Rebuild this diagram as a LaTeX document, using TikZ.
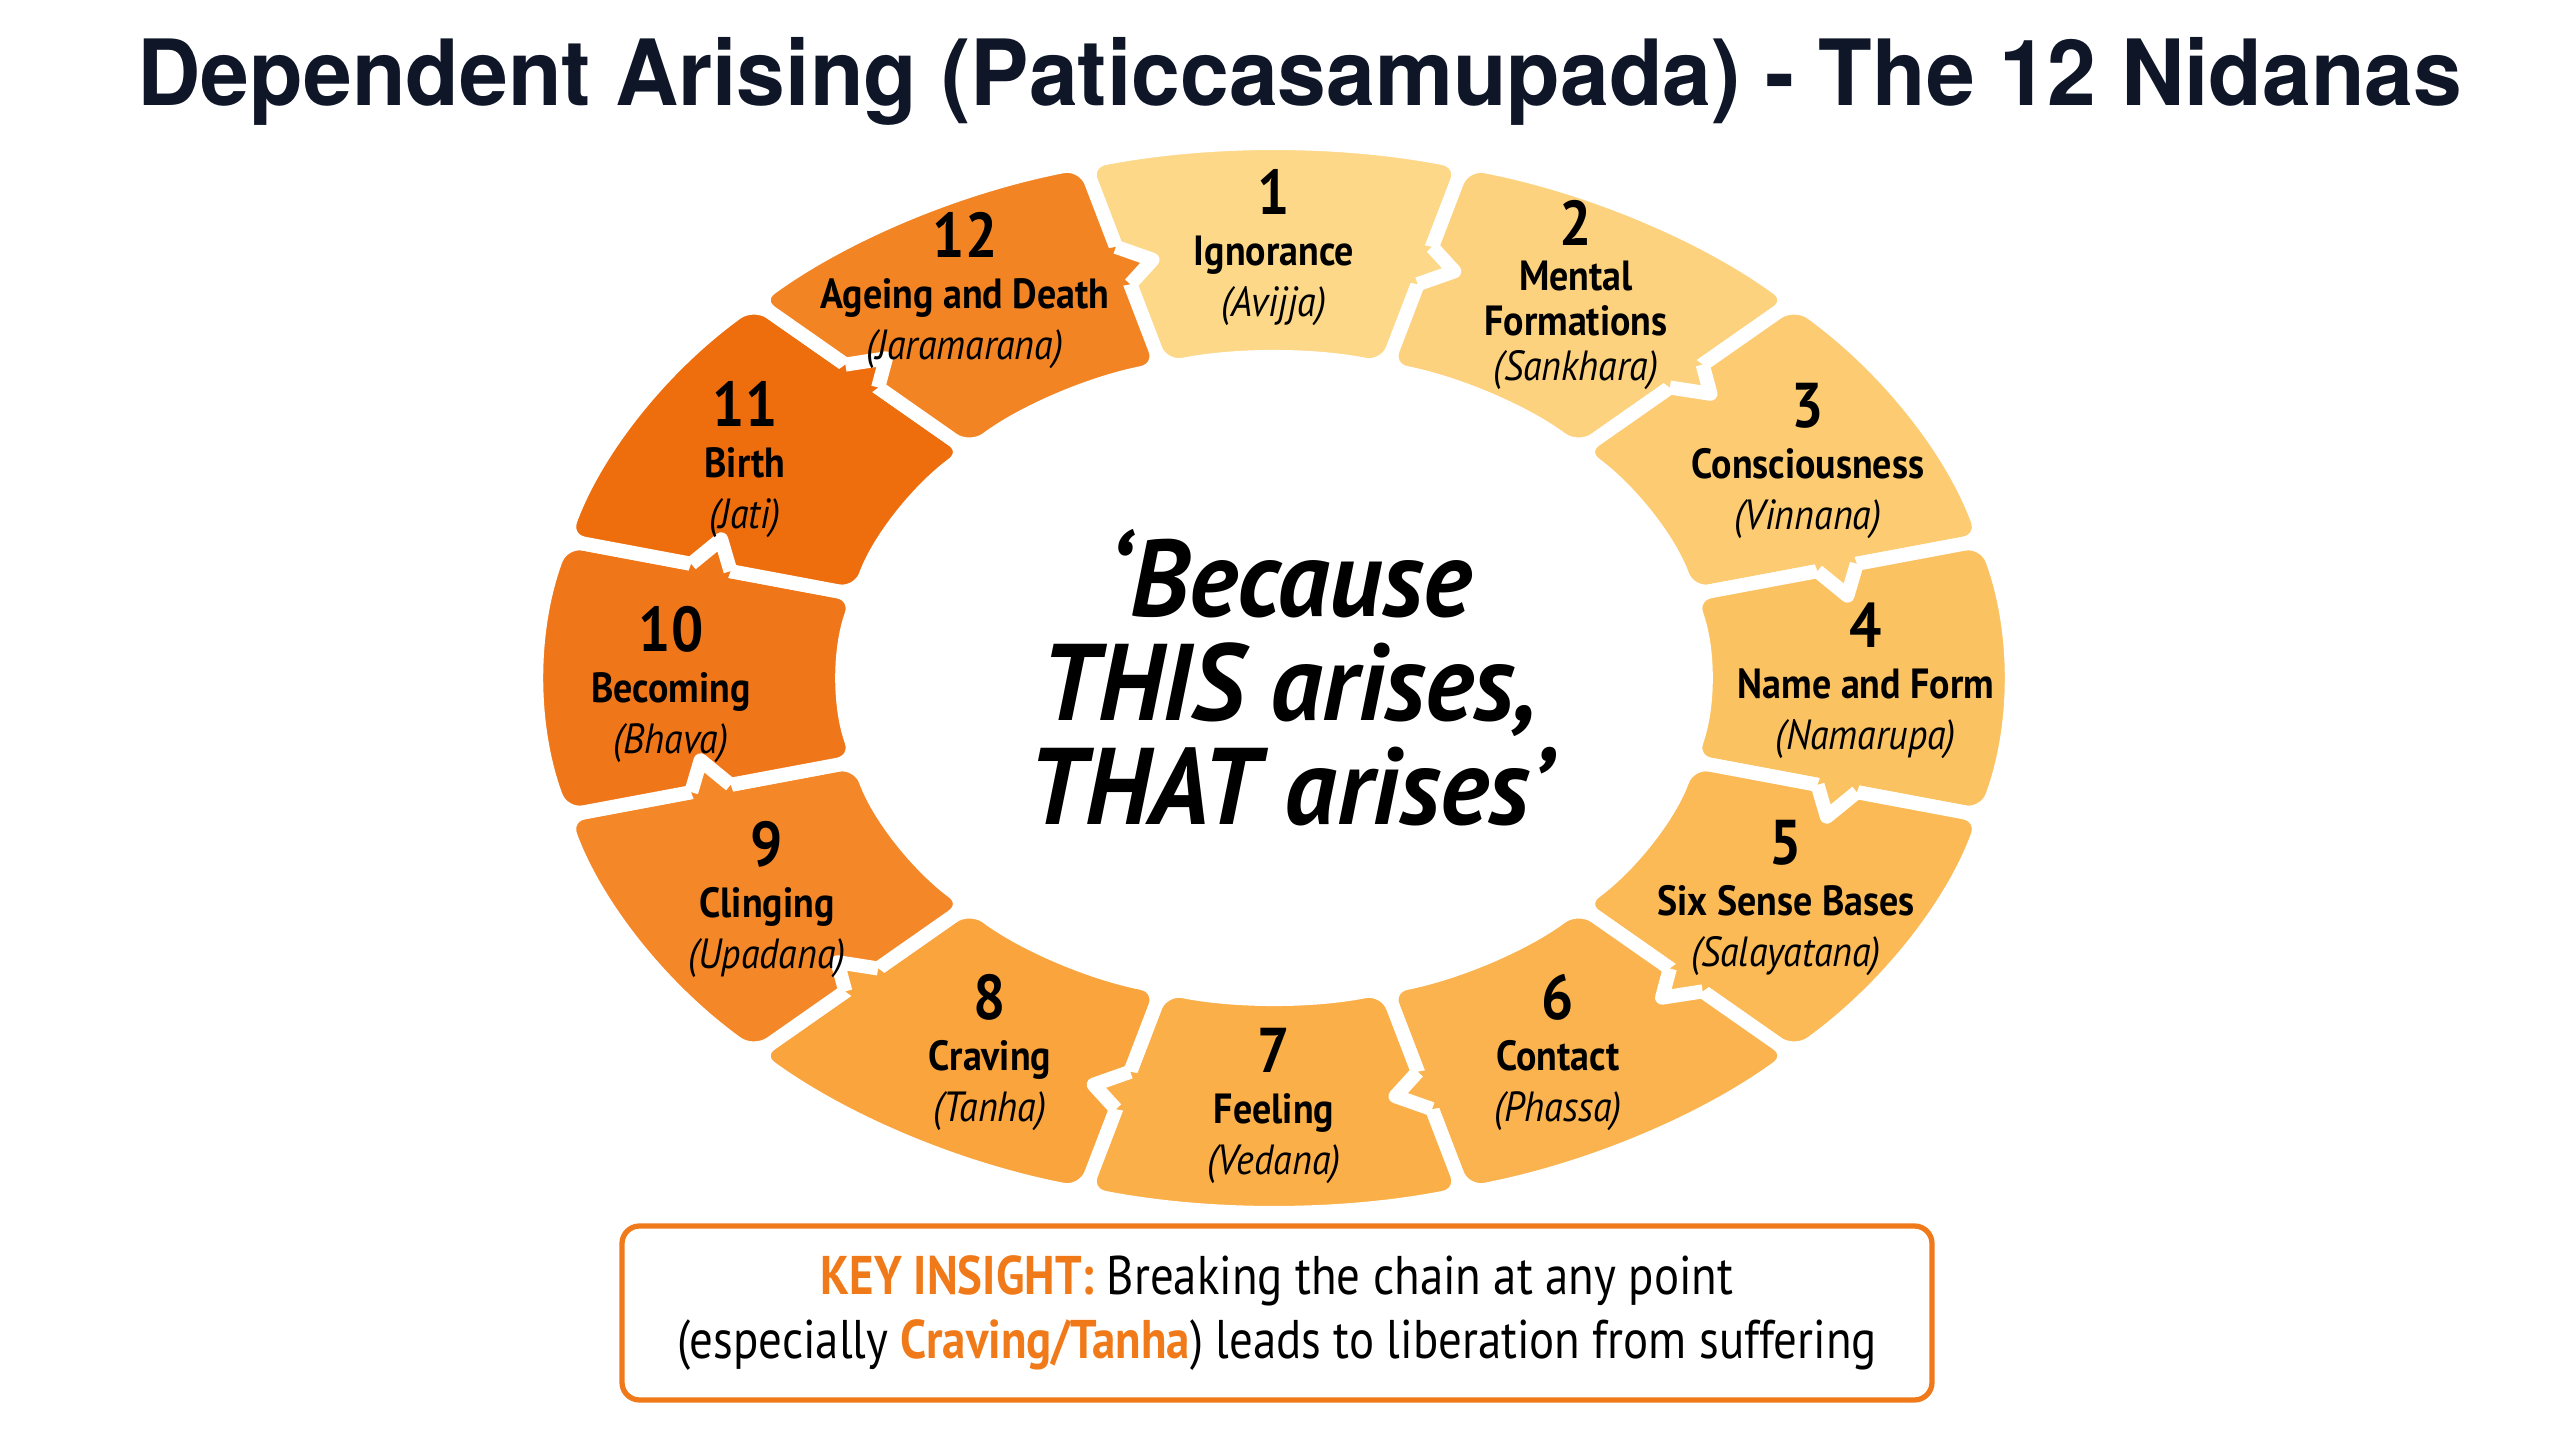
\documentclass[tikz,border=0pt]{standalone}
\usepackage{fontspec}
\usetikzlibrary{calc}
\newfontfamily\labelfont{PT Sans}[FakeStretch=0.9]
\newfontfamily\quotefont{PT Sans}[FakeStretch=0.95]
\newfontfamily\boxfont{PT Sans}[FakeStretch=0.86]
\newfontfamily\titlefont{TeX Gyre Heros}[FakeStretch=0.96]
\definecolor{ink}{HTML}{0E1628}
\definecolor{keyorange}{HTML}{F07A1A}
\definecolor{nid1}{HTML}{FDD888}
\definecolor{nid2}{HTML}{FDD27E}
\definecolor{nid3}{HTML}{FCCB72}
\definecolor{nid4}{HTML}{FBC262}
\definecolor{nid5}{HTML}{FBBA56}
\definecolor{nid6}{HTML}{FAB34E}
\definecolor{nid7}{HTML}{FBAF48}
\definecolor{nid8}{HTML}{F9A43D}
\definecolor{nid9}{HTML}{F48727}
\definecolor{nid10}{HTML}{F0761A}
\definecolor{nid11}{HTML}{EE6E0E}
\definecolor{nid12}{HTML}{F38423}
\newcommand{\bignum}{\fontsize{18}{18}\selectfont\bfseries}
\newcommand{\paliword}{\mdseries\itshape}

\begin{document}
\begin{tikzpicture}[seg/.style={draw=white,line width=4pt,rounded corners=6pt},
    tabline/.style={draw=white,line width=4pt,line join=round},
    nidana/.style={align=center,text=black,font=\labelfont\fontsize{12}{14.5}\selectfont\bfseries}]
\useasboundingbox (0,0) rectangle (25.6,14.4);
\coordinate (C) at (12.74,7.62);

% the twelve links of the wheel
\foreach \k/\col in {1/nid1,2/nid2,3/nid3,4/nid4,5/nid5,6/nid6,7/nid7,8/nid8,9/nid9,10/nid10,11/nid11,12/nid12}{
  \pgfmathsetmacro\ta{105-30*\k}
  \pgfmathsetmacro\tb{135-30*\k}
  \path[seg,fill=\col] ($(C)+(\ta:7.36 and 5.34)$) arc[start angle=\ta,end angle=\tb,x radius=7.36,y radius=5.34]
    -- ($(C)+(\tb:4.3 and 3.2)$) arc[start angle=\tb,end angle=\ta,x radius=4.3,y radius=3.2] -- cycle;
}
% puzzle tabs, each link pointing into the next
\foreach \k/\col in {1/nid1,2/nid2,3/nid3,4/nid4,5/nid5,6/nid6,7/nid7,8/nid8,9/nid9,10/nid10,11/nid11,12/nid12}{
  \pgfmathsetmacro\b{105-30*\k}
  \pgfmathsetmacro\ux{1.53*cos(\b)} \pgfmathsetmacro\uy{1.07*sin(\b)} \pgfmathsetmacro\ul{veclen(\ux,\uy)}
  \pgfmathsetmacro\Ux{\ux/\ul} \pgfmathsetmacro\Uy{\uy/\ul}
  \pgfmathsetmacro\tx{5.83*sin(\b)} \pgfmathsetmacro\ty{-4.27*cos(\b)} \pgfmathsetmacro\tl{veclen(\tx,\ty)}
  \pgfmathsetmacro\Tx{\tx/\tl} \pgfmathsetmacro\Ty{\ty/\tl}
  \coordinate (m) at ($(C)+(\b:5.83 and 4.27)$);
  \fill[\col] ($(m)+({0.2*\Ux-0.15*\Tx},{0.2*\Uy-0.15*\Ty})$) -- ($(m)+({0.2*\Ux},{0.2*\Uy})$)
    -- ($(m)+({0.3*\Tx},{0.3*\Ty})$) -- ($(m)+({-0.2*\Ux},{-0.2*\Uy})$)
    -- ($(m)+({-0.2*\Ux-0.15*\Tx},{-0.2*\Uy-0.15*\Ty})$) -- cycle;
  \draw[tabline] ($(m)+({0.2*\Ux},{0.2*\Uy})$) -- ($(m)+({0.3*\Tx},{0.3*\Ty})$) -- ($(m)+({-0.2*\Ux},{-0.2*\Uy})$);
}

\node[font=\titlefont\fontsize{26}{30}\selectfont\bfseries,text=ink] (title) at (13.0,13.59) {Dependent Arising (Paticcasamupada) - The 12 Nidanas};

\node[nidana] (n1)  at (12.74,11.92) {{\bignum 1}\\Ignorance\\{\paliword (Avijja)}};
\node[nidana,font=\labelfont\fontsize{12}{12.8}\selectfont\bfseries] (n2) at (15.76,11.45) {{\bignum 2}\\Mental\\Formations\\{\paliword (Sankhara)}};
\node[nidana] (n3)  at (18.08,9.79)  {{\bignum 3}\\Consciousness\\{\paliword (Vinnana)}};
\node[nidana] (n4)  at (18.66,7.59)  {{\bignum 4}\\Name and Form\\{\paliword (Namarupa)}};
\node[nidana] (n5)  at (17.86,5.42)  {{\bignum 5}\\Six Sense Bases\\{\paliword (Salayatana)}};
\node[nidana] (n6)  at (15.58,3.87)  {{\bignum 6}\\Contact\\{\paliword (Phassa)}};
\node[nidana] (n7)  at (12.74,3.34)  {{\bignum 7}\\Feeling\\{\paliword (Vedana)}};
\node[nidana] (n8)  at (9.90,3.87)   {{\bignum 8}\\Craving\\{\paliword (Tanha)}};
\node[nidana] (n9)  at (7.67,5.40)   {{\bignum 9}\\Clinging\\{\paliword (Upadana)}};
\node[nidana] (n10) at (6.71,7.55)   {{\bignum 10}\\Becoming\\{\paliword (Bhava)}};
\node[nidana] (n11) at (7.45,9.80)   {{\bignum 11}\\Birth\\{\paliword (Jati)}};
\node[nidana] (n12) at (9.65,11.49)  {{\bignum 12}\\Ageing and Death\\{\paliword (Jaramarana)}};

\node[align=center,font=\quotefont\fontsize{31}{29.6}\selectfont\bfseries\itshape] (quote) at (12.9,7.62) {‘Because\\THIS arises,\\THAT arises’};

\node[draw=keyorange,line width=1.5pt,rounded corners=5pt,minimum width=13.1cm,minimum height=1.74cm,
  align=center,font=\boxfont\fontsize{15.5}{18.2}\selectfont] (insight) at (12.77,1.27)
  {{\color{keyorange}\bfseries KEY INSIGHT:} Breaking the chain at any point\\(especially {\color{keyorange}\bfseries Craving/Tanha}) leads to liberation from suffering};
\end{tikzpicture}
\end{document}
